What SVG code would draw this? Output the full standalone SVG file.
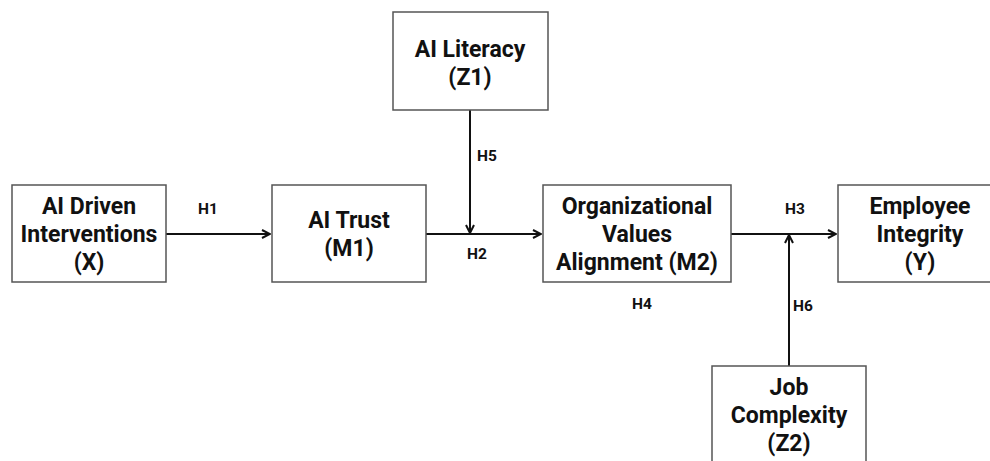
<svg xmlns="http://www.w3.org/2000/svg" width="990" height="461" viewBox="0 0 990 461">
<defs>
<style>
.box{fill:#fff;stroke:#555;stroke-width:1.5}
.nt{font-family:Roboto,"Liberation Sans",sans-serif;font-weight:bold;font-size:23px;fill:#111;text-anchor:middle}
.lb{font-family:Roboto,"Liberation Sans",sans-serif;font-weight:bold;font-size:15.5px;fill:#111;text-anchor:middle}
.cn{fill:none;stroke:#111;stroke-width:2}
</style>
<marker id="ah" viewBox="0 0 10 10" refX="9" refY="5" markerWidth="10" markerHeight="10" markerUnits="userSpaceOnUse" orient="auto">
<path d="M1,1 L9,5 L1,9" fill="none" stroke="#111" stroke-width="2"/>
</marker>
</defs>
<rect width="990" height="461" fill="#fff"/>
<g id="connectors">
<line class="cn" x1="166" y1="234" x2="270" y2="234" marker-end="url(#ah)"/>
<line class="cn" x1="426" y1="234" x2="541" y2="234" marker-end="url(#ah)"/>
<line class="cn" x1="470" y1="110" x2="470" y2="233" marker-end="url(#ah)"/>
<line class="cn" x1="731" y1="234" x2="836" y2="234" marker-end="url(#ah)"/>
<line class="cn" x1="789" y1="366" x2="789" y2="235" marker-end="url(#ah)"/>
<text class="lb" x="208" y="214">H1</text>
<text class="lb" x="477" y="259">H2</text>
<text class="lb" x="795" y="214">H3</text>
<text class="lb" x="642" y="309">H4</text>
<text class="lb" x="487" y="161">H5</text>
<text class="lb" x="803" y="311">H6</text>
</g>
<g id="X">
<rect class="box" x="12" y="185" width="154" height="97"/>
<text class="nt" x="89" y="214">AI Driven</text>
<text class="nt" x="89" y="242">Interventions</text>
<text class="nt" x="89" y="270">(X)</text>
</g>
<g id="M1">
<rect class="box" x="272" y="185" width="154" height="97"/>
<text class="nt" x="349" y="228">AI Trust</text>
<text class="nt" x="349" y="256">(M1)</text>
</g>
<g id="M2">
<rect class="box" x="543" y="185" width="188" height="97"/>
<text class="nt" x="637" y="214">Organizational</text>
<text class="nt" x="637" y="242">Values</text>
<text class="nt" x="637" y="270">Alignment (M2)</text>
</g>
<g id="Y">
<rect class="box" x="838" y="185" width="166" height="97"/>
<text class="nt" x="920" y="214">Employee</text>
<text class="nt" x="920" y="242">Integrity</text>
<text class="nt" x="920" y="270">(Y)</text>
</g>
<g id="Z1">
<rect class="box" x="393" y="12" width="155" height="98"/>
<text class="nt" x="470" y="57">AI Literacy</text>
<text class="nt" x="470" y="85">(Z1)</text>
</g>
<g id="Z2">
<rect class="box" x="712" y="366" width="154" height="110"/>
<text class="nt" x="789" y="395">Job</text>
<text class="nt" x="789" y="423">Complexity</text>
<text class="nt" x="789" y="451">(Z2)</text>
</g>
</svg>
